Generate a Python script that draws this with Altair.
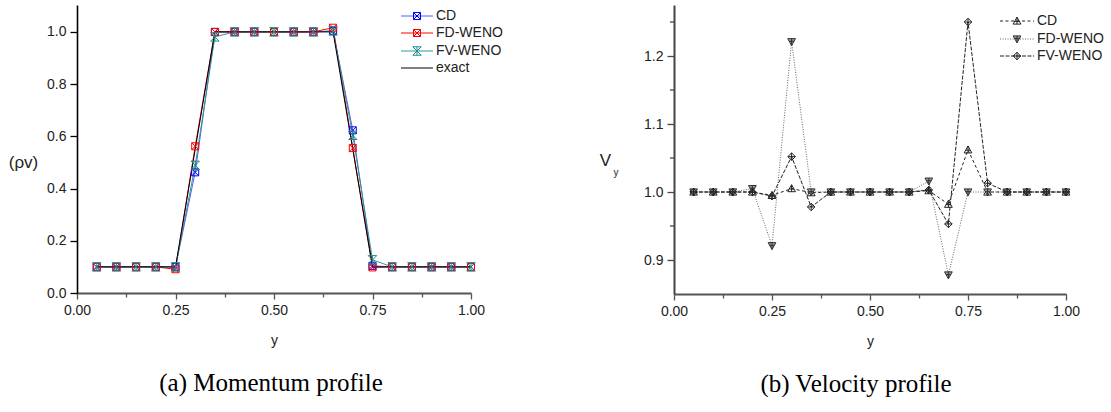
import altair as alt
import pandas as pd

# ---------------- data ----------------
y_pos = [0.05, 0.10, 0.15, 0.20, 0.25, 0.30, 0.35, 0.40, 0.45, 0.50,
         0.55, 0.60, 0.65, 0.70, 0.75, 0.80, 0.85, 0.90, 0.95, 1.00]

# (a) momentum (rho v)
mom_cd = [0.1, 0.1, 0.1, 0.1, 0.1, 0.462, 1.0, 1.0, 1.0, 1.0,
          1.0, 1.0, 1.003, 0.623, 0.104, 0.1, 0.1, 0.1, 0.1, 0.1]
mom_fd = [0.1, 0.1, 0.1, 0.1, 0.091, 0.562, 1.0, 1.0, 1.0, 1.0,
          1.0, 1.0, 1.016, 0.555, 0.098, 0.1, 0.1, 0.1, 0.1, 0.1]
mom_fv = [0.1, 0.1, 0.1, 0.1, 0.1, 0.489, 0.981, 1.0, 1.0, 1.0,
          1.0, 1.0, 1.004, 0.604, 0.127, 0.1, 0.1, 0.1, 0.1, 0.1]
mom_exact = [0.1, 0.1, 0.1, 0.1, 0.1, 0.55, 1.0, 1.0, 1.0, 1.0,
             1.0, 1.0, 1.0, 0.55, 0.1, 0.1, 0.1, 0.1, 0.1, 0.1]

# (b) velocity V_y
vel_cd = [1.0, 1.0, 1.0, 1.0, 0.995, 1.005, 0.999, 1.0, 1.0, 1.0,
          1.0, 1.0, 1.002, 0.982, 1.062, 1.0, 1.0, 1.0, 1.0, 1.0]
vel_fd = [1.0, 1.0, 1.0, 1.005, 0.921, 1.221, 1.0, 1.0, 1.0, 1.0,
          1.0, 1.0, 1.016, 0.878, 1.0, 1.0, 1.0, 1.0, 1.0, 1.0]
vel_fv = [1.0, 1.0, 1.0, 1.0, 0.994, 1.052, 0.978, 1.0, 1.0, 1.0,
          1.0, 1.0, 1.003, 0.953, 1.25, 1.013, 1.0, 1.0, 1.0, 1.0]

# tick values (all) and labelled (major) ticks
x_ticks = [0, 0.125, 0.25, 0.375, 0.5, 0.625, 0.75, 0.875, 1.0]
x_major = [0, 0.25, 0.5, 0.75, 1.0]
mom_ticks = [0, 0.1, 0.2, 0.3, 0.4, 0.5, 0.6, 0.7, 0.8, 0.9, 1.0, 1.1]
mom_major = [0, 0.2, 0.4, 0.6, 0.8, 1.0]
vel_major = [0.9, 1.0, 1.1, 1.2]
vel_minor = [0.95, 1.05, 1.15, 1.25]

# ---------------- styles ----------------
SANS = "Liberation Sans"
SERIF = "Liberation Serif"
SQX = "M-1,-1H1V1H-1Z M-1,-1L1,1 M1,-1L-1,1"
HOUR = "M-1,-1H1L-1,1H1Z M0,-1V1"
TRI_UP = "M0,-1L1,0.8H-1Z M0,-1V0.8 M-0.6,0.1H0.6"
TRI_DN = "M0,1L1,-0.8H-1Z M0,1V-0.8 M-0.6,-0.1H0.6"
DIAM = "M0,-1L1,0L0,1L-1,0Z M0,-1V1 M-1,0H1"


def is_major(lst):
    return "indexof([" + ",".join(repr(float(v)) for v in lst) + "], datum.value) >= 0"


def make_axis(values, major, fmt, big, **kw):
    test = is_major(major)
    return alt.Axis(values=values,
                    labelExpr=f"{test} ? format(datum.value,'{fmt}') : ''",
                    tickSize={"condition": {"test": test, "value": big}, "value": 4},
                    grid=False, tickWidth=1.3,
                    labelFont=SANS, labelFontSize=14, labelColor="#222", labelPadding=4,
                    labelFlush=False, labelOverlap=False,
                    titleFont=SANS, titleFontWeight="normal", titleColor="#222", **kw)


def data_layers(series, dom_y, xaxis, yaxis, ytitle):
    xs = alt.Scale(domain=[0, 1], nice=False)
    ysc = alt.Scale(domain=dom_y, nice=False, zero=False)
    layers = []
    first = True
    for name, vals, col, lcol, dash, shape, size, fill in series:
        df = pd.DataFrame({"y": y_pos, "v": vals})
        if first:
            enc = dict(x=alt.X("y:Q", scale=xs, axis=xaxis),
                       y=alt.Y("v:Q", scale=ysc, axis=yaxis))
        else:
            enc = dict(x=alt.X("y:Q", title="y"), y=alt.Y("v:Q", title=ytitle))
        first = False
        kw = dict(color=lcol, strokeWidth=1)
        if dash:
            kw["strokeDash"] = dash
        layers.append(alt.Chart(df).mark_line(**kw).encode(**enc))
    pts = []
    for name, vals, col, lcol, dash, shape, size, fill in series:
        if shape is None:
            continue
        df = pd.DataFrame({"y": y_pos, "v": vals})
        pts.append(alt.Chart(df).mark_point(shape=shape, size=size, stroke=col, fill=fill,
                                            strokeWidth=1, opacity=1).encode(
            x=alt.X("y:Q", title="y"), y=alt.Y("v:Q", title=ytitle)))
    return layers + pts


def legend_layers(series, x0, x1, xm, xt, ys):
    out = []
    one = alt.Data(values=[{"a": 1}])
    for (name, vals, col, lcol, dash, shape, size, fill), yy in zip(series, ys):
        kw = dict(color=lcol, strokeWidth=1)
        if dash:
            kw["strokeDash"] = dash
        out.append(alt.Chart(one).mark_rule(**kw).encode(
            x=alt.value(x0), x2=alt.value(x1), y=alt.value(yy)))
        if shape is not None:
            out.append(alt.Chart(one).mark_point(shape=shape, size=size, stroke=col, fill=fill,
                                                 strokeWidth=1, opacity=1).encode(
                x=alt.value(xm), y=alt.value(yy)))
        out.append(alt.Chart(one).mark_text(text=name, align="left", baseline="middle",
                                            font=SANS, fontSize=14, color="#222").encode(
            x=alt.value(xt), y=alt.value(yy)))
    return out


def x_axis():
    return make_axis(x_ticks, x_major, ".2f", 6, title="y", domainColor="#555", domainWidth=2,
                     tickColor="#555", titleFontSize=14, titlePadding=16)


# ---------------- panel (a) ----------------
mom_series = [
    ("CD", mom_cd, "#0000ff", "#5a5aff", None, SQX, 49, "transparent"),
    ("FD-WENO", mom_fd, "#ff0000", "#ff0000", None, SQX, 49, "transparent"),
    ("FV-WENO", mom_fv, "#1f8a8a", "#2a9a9a", None, HOUR, 72, "transparent"),
    ("exact", mom_exact, "#000000", "#000000", None, None, 0, "transparent"),
]
mom_yaxis = make_axis(mom_ticks, mom_major, ".1f", 7, title="(ρv)",
                      domainColor="#000", domainWidth=1.6, tickColor="#000",
                      titleFontSize=17, titleAngle=0, titleAlign="center",
                      titleBaseline="middle", titleX=-54, titleY=157)

left = alt.layer(
    *data_layers(mom_series, [0, 1.103], x_axis(), mom_yaxis, "(ρv)"),
    *legend_layers(mom_series, 324, 356, 340, 359, [11, 28, 46, 63]),
).properties(width=394, height=288,
             title=alt.TitleParams("(a) Momentum profile", orient="bottom", anchor="middle",
                                   font=SERIF, fontSize=25, fontWeight="normal", color="#000",
                                   offset=24, dx=-3))

# ---------------- panel (b) ----------------
vel_series = [
    ("CD", vel_cd, "#222222", "#222222", [3, 2.5], TRI_UP, 60, "transparent"),
    ("FD-WENO", vel_fd, "#333333", "#666666", [1, 1.5], TRI_DN, 60, "#999999"),
    ("FV-WENO", vel_fv, "#222222", "#222222", [4, 1.5], DIAM, 56, "transparent"),
]
vel_yaxis = alt.Axis(values=vel_major, format=".1f", tickSize=7, grid=False, tickWidth=1.3,
                     labelFont=SANS, labelFontSize=14, labelColor="#222", labelPadding=4,
                     labelFlush=False, labelOverlap=False,
                     title="V", titleFont=SANS, titleFontWeight="normal", titleColor="#222",
                     domainColor="#444", domainWidth=2, tickColor="#444",
                     titleFontSize=17, titleAngle=0, titleAlign="center",
                     titleBaseline="middle", titleX=-69, titleY=155)

# minor ticks of the V_y axis, placed through the y scale
vel_minor_ticks = alt.Chart(pd.DataFrame({"t": vel_minor})).mark_rule(
    color="#444", strokeWidth=1.3
).encode(x=alt.value(-4), x2=alt.value(0), y=alt.Y("t:Q", title="V"))

sub = alt.Chart(alt.Data(values=[{"a": 1}])).mark_text(
    text="y", font=SANS, fontSize=10, color="#222", align="center", baseline="middle"
).encode(x=alt.value(-58), y=alt.value(168))

right = alt.layer(
    *data_layers(vel_series, [0.85, 1.275], x_axis(), vel_yaxis, "V"),
    vel_minor_ticks,
    *legend_layers(vel_series, 326, 360, 343, 363, [16, 34, 51]),
    sub,
).properties(width=392, height=289,
             title=alt.TitleParams("(b) Velocity profile", orient="bottom", anchor="middle",
                                   font=SERIF, fontSize=25, fontWeight="normal", color="#000",
                                   offset=24, dx=-14))

chart = alt.hconcat(left, right, spacing=96).properties(
    padding={"left": 8, "top": 5, "right": 0, "bottom": 0}, background="white"
).configure_view(stroke=None)

chart.save("out.html", embed_options={"renderer": "svg", "actions": False})
